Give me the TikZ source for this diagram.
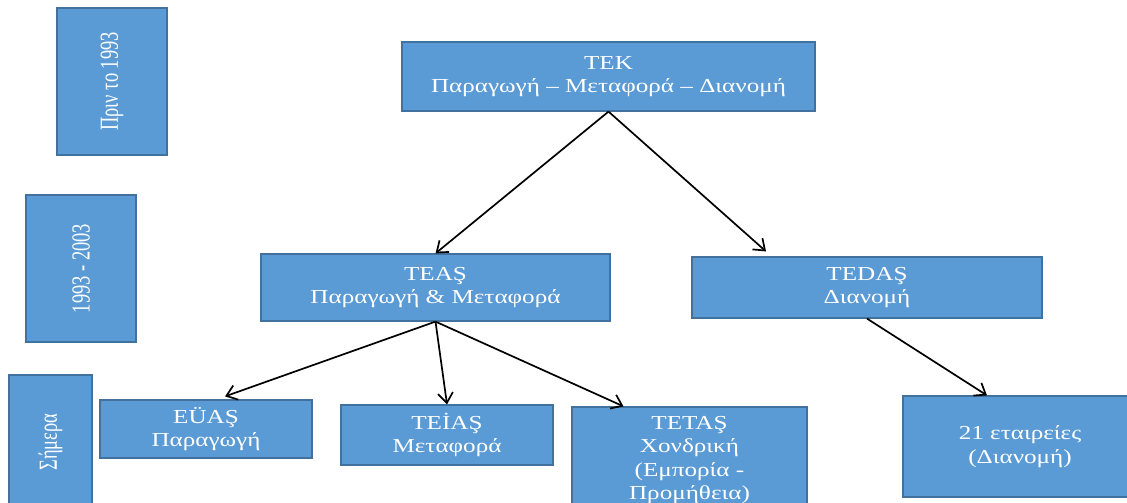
\documentclass[tikz,border=0pt]{standalone}
\usepackage{fontspec}
\newfontfamily\boxfont{Liberation Serif}[FakeStretch=1.27]
\newfontfamily\sidefont{Liberation Serif}[FakeStretch=0.71]
\usetikzlibrary{arrows.meta}
\definecolor{boxblue}{HTML}{5B9BD5}
\definecolor{boxline}{HTML}{41719C}
\tikzset{
  firm/.style={draw=boxline,fill=boxblue,line width=1.2pt,text=white,
    align=center,inner sep=0pt,font=\boxfont\fontsize{19.8}{23.5}\selectfont},
  era/.style={firm,rotate=90,font=\sidefont\fontsize{26}{30}\selectfont}
}
\begin{document}
\begin{tikzpicture}[x=1pt,y=1pt,>={Straight Barb[length=10pt,width=15pt]},line width=1.7pt]
\clip (0,0) rectangle (1127,503);
\node[era,minimum width=147pt,minimum height=110pt] (before) at (112,421.5) {Πριν το 1993};
\node[era,minimum width=147pt,minimum height=110pt] (decade) at (81,234.5) {1993 - 2003};
\node[era,minimum width=134pt,minimum height=83pt] (today) at (50.5,61) {Σήμερα};

\node[firm,minimum width=413pt,minimum height=69pt] (tek) at (608.5,426.5)
  {TEK\\Παραγωγή – Μεταφορά – Διανομή};
\node[firm,minimum width=349pt,minimum height=67pt] (teas) at (435.5,215.5)
  {TEAŞ\\Παραγωγή \& Μεταφορά};
\node[firm,minimum width=350pt,minimum height=61pt] (tedas) at (867,215.5)
  {TEDAŞ\\Διανομή};
\node[firm,minimum width=212pt,minimum height=58pt] (euas) at (206,74)
  {EÜAŞ\\Παραγωγή};
\node[firm,minimum width=212pt,minimum height=60pt] (teias) at (447,68)
  {TEİAŞ\\Μεταφορά};
\node[firm,minimum width=235pt,minimum height=106pt] (tetas) at (689.5,43)
  {TETAŞ\\Χονδρική\\(Εμπορία -\\Προμήθεια)};
\node[firm,minimum width=234pt,minimum height=101pt] (firms) at (1020,56.5)
  {21 εταιρείες\\(Διανομή)};

\draw[->] (tek.south) -- (teas.north);
\draw[->] (tek.south) -- ([shift={(-101pt,5pt)}]tedas.north);
\draw[->] (teas.south) -- ([shift={(19pt,3pt)}]euas.north);
\draw[->] (teas.south) -- (teias.north);
\draw[->] (teas.south) -- ([xshift=-66pt]tetas.north);
\draw[->] (tedas.south) -- ([xshift=-33pt]firms.north);
\end{tikzpicture}
\end{document}
